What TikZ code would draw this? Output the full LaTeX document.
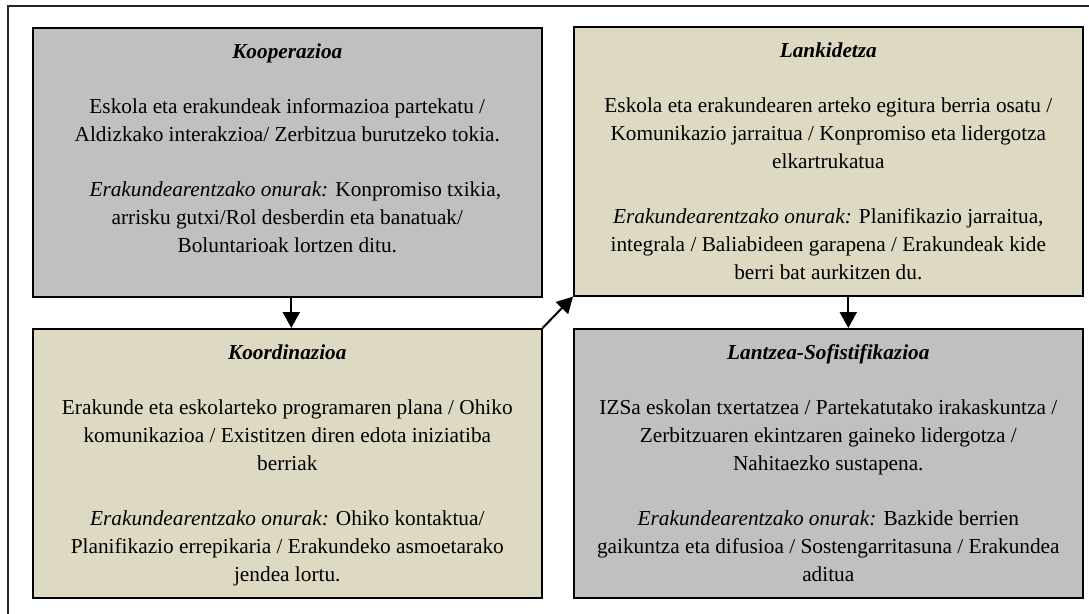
\documentclass[tikz,border=0pt]{standalone}
\usepackage{fontspec}
\setmainfont{Liberation Serif}
\usetikzlibrary{arrows.meta}

\definecolor{stagegray}{RGB}{192,192,192}
\definecolor{stagetan}{RGB}{221,217,195}

\tikzset{
  stage/.style={draw=black, line width=1.6pt, inner sep=0pt, anchor=north west,
    font=\fontsize{21.3}{27.8}\selectfont},
  flow/.style={line width=2pt, -{Triangle[length=16pt,width=17pt]}},
}
\newcommand{\stagetext}[3]{\parbox[c][269pt][t]{509pt}{\centering\rule{0pt}{31pt}\textbf{\textit{#1}}\\[27.2pt]#2\\[27.2pt]#3}}

\begin{document}
\begin{tikzpicture}[x=1pt,y=-1pt]
\useasboundingbox (0,0) rectangle (1089,613);
\clip (0,0) rectangle (1089,613);
%frame
\draw[line width=1.2pt, black!85] (8,6) rectangle (1100,625);
%stages
\node[stage, fill=stagegray] (koop) at (32,27) {\stagetext{Kooperazioa}
  {Eskola eta erakundeak informazioa partekatu /\\ Aldizkako interakzioa/ Zerbitzua burutzeko tokia.}
  {\hspace*{16pt}\textit{Erakundearentzako onurak:}\/ Konpromiso txikia,\\ arrisku gutxi/Rol desberdin eta banatuak/\\ Boluntarioak lortzen ditu.}};
\node[stage, fill=stagetan] (lank) at (573,26) {\stagetext{Lankidetza}
  {Eskola eta erakundearen arteko egitura berria osatu /\\ Komunikazio jarraitua / Konpromiso eta lidergotza\\ elkartrukatua}
  {\textit{Erakundearentzako onurak:} Planifikazio jarraitua,\\ integrala / Baliabideen garapena / Erakundeak kide\\ berri bat aurkitzen du.}};
\node[stage, fill=stagetan] (koord) at (32,328) {\stagetext{Koordinazioa}
  {Erakunde eta eskolarteko programaren plana / Ohiko\\ komunikazioa / Existitzen diren edota iniziatiba\\ berriak}
  {\textit{Erakundearentzako onurak:} Ohiko kontaktua/\\ Planifikazio errepikaria / Erakundeko asmoetarako\\ jendea lortu.}};
\node[stage, fill=stagegray] (lantz) at (573,328) {\stagetext{Lantzea-Sofistifikazioa}
  {IZSa eskolan txertatzea / Partekatutako irakaskuntza /\\ Zerbitzuaren ekintzaren gaineko lidergotza /\\ Nahitaezko sustapena.}
  {\textit{Erakundearentzako onurak:} Bazkide berrien\\ gaikuntza eta difusioa / Sostengarritasuna / Erakundea\\ aditua}};
%arrows
\draw[flow] ([xshift=4pt]koop.south) -- ([xshift=4pt]koord.north);
\draw[flow] (koord.north east) -- (lank.south west);
\draw[flow] ([xshift=20pt]lank.south) -- ([xshift=20pt]lantz.north);
\end{tikzpicture}
\end{document}
